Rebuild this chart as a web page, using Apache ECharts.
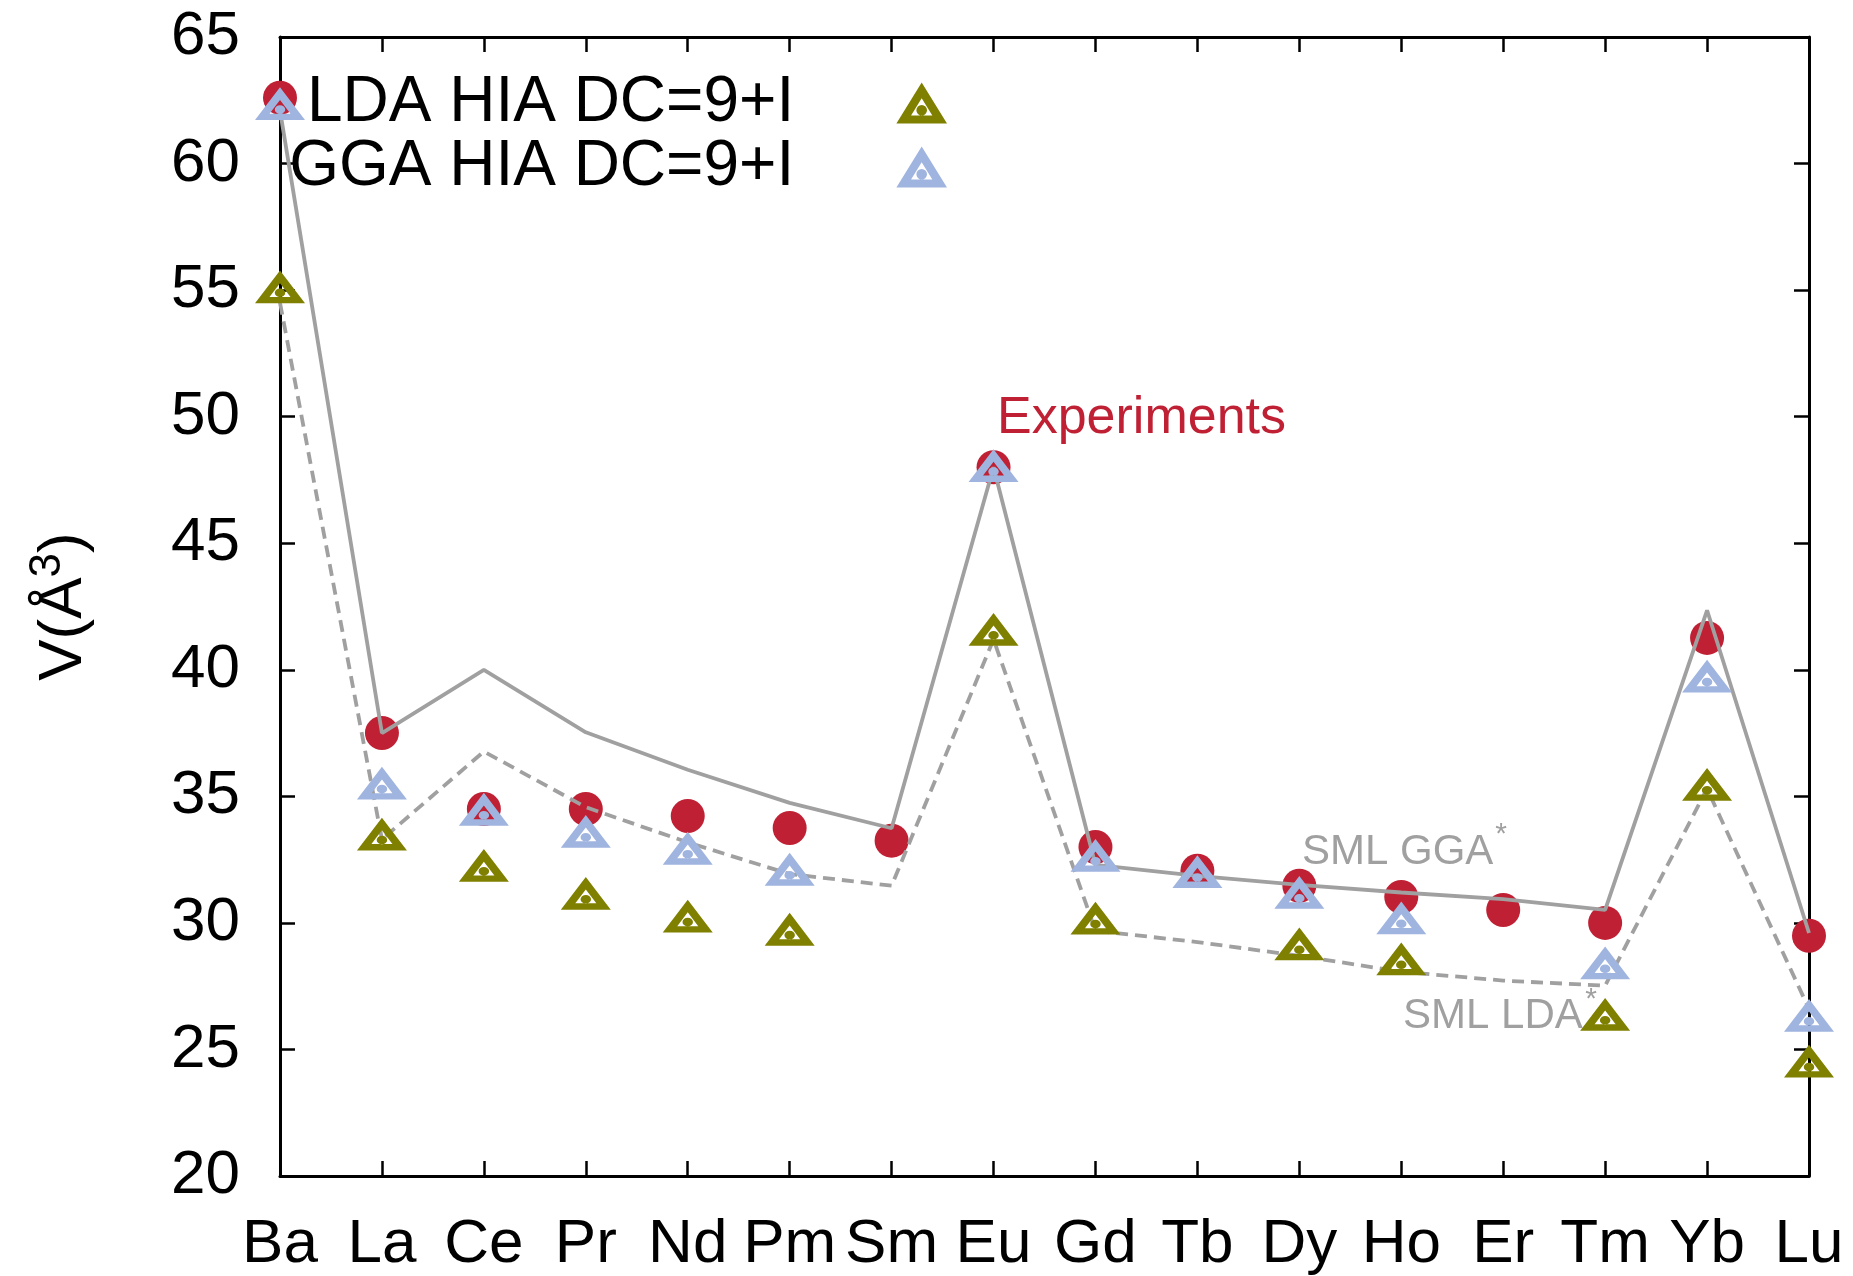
<!DOCTYPE html>
<html>
<head>
<meta charset="utf-8">
<script src="https://cdn.jsdelivr.net/npm/echarts@6/dist/echarts.min.js"></script>
<style>
html,body{margin:0;padding:0;background:#fff;}
#c{width:1853px;height:1276px;}
</style>
</head>
<body>
<div id="c"></div>
<script>
const categories = ['Ba','La','Ce','Pr','Nd','Pm','Sm','Eu','Gd','Tb','Dy','Ho','Er','Tm','Yb','Lu'];
const experiments = [62.6, 37.5, 34.5, 34.5, 34.22, 33.75, 33.25, 48.0, 33.0, 32.06, 31.47, 31.02, 30.51, 30.0, 41.26, 29.49];
const ldaHia = [54.86, 33.24, 32.0, 30.9, 30.0, 29.48, null, 41.33, 29.92, null, 28.9, 28.31, null, 26.12, 35.2, 24.27];
const ggaHia = [62.1, 35.25, 34.22, 33.35, 32.68, 31.85, null, 47.8, 32.4, 31.76, 30.94, 29.93, null, 28.15, 39.48, 26.08];
const smlGga = [62.1, 37.5, 40.0, 37.53, 36.05, 34.74, 33.74, 48.0, 32.29, 31.86, 31.5, 31.2, 30.94, 30.51, 42.35, 29.6];
const smlLda = [54.5, 33.3, 36.77, 34.57, 33.18, 31.93, 31.47, 41.2, 29.69, 29.24, 28.7, 28.07, 27.72, 27.52, 35.3, 26.6];
const yMin = 20, yMax = 65, yStep = 5;

const RED = '#c02034', OLIVE = '#808000', BLUE = '#a0b4e0', GRAY = '#a0a0a0';
const FONT = 'Liberation Sans, Arial, Helvetica, sans-serif';
const triPath = 'path://M0 81 L50 0 L100 81 Z M29 65.3 L71 65.3 L50 31.3 Z M60.5 55 A10.5 10.5 0 1 0 39.5 55 A10.5 10.5 0 1 0 60.5 55 Z';

const axisLine = {show: true, lineStyle: {color: '#000', width: 3}};
const tick = {show: true, inside: true, length: 15, lineStyle: {color: '#000', width: 2.5}};

const chart = echarts.init(document.getElementById('c'), null, {renderer: 'canvas'});
chart.setOption({
  animation: false,
  backgroundColor: '#fff',
  textStyle: {fontFamily: FONT},
  grid: {left: 280, right: 44, top: 37, bottom: 99, containLabel: false},
  legend: {
    orient: 'vertical', align: 'right', right: 906, top: 71, padding: 0,
    itemGap: 0, itemWidth: 245, itemHeight: 41, selectedMode: false,
    data: ['LDA HIA DC=9+I', 'GGA HIA DC=9+I'],
    textStyle: {fontSize: 64, color: '#000', lineHeight: 64, fontFamily: FONT}
  },
  xAxis: [
    {type: 'category', data: categories, boundaryGap: false, position: 'bottom',
     axisLine: axisLine, axisTick: tick,
     axisLabel: {fontSize: 62, color: '#000', margin: 38, interval: 0, fontFamily: FONT},
     splitLine: {show: false}},
    {type: 'category', data: categories, boundaryGap: false, position: 'top',
     axisLine: axisLine, axisTick: tick, axisLabel: {show: false}, splitLine: {show: false}}
  ],
  yAxis: [
    {type: 'value', min: yMin, max: yMax, interval: yStep, position: 'left',
     axisLine: axisLine, axisTick: tick,
     axisLabel: {fontSize: 62, color: '#000', margin: 40, fontFamily: FONT},
     splitLine: {show: false},
     name: '{a|V(Å}{s|3}{a|)}', nameLocation: 'middle', nameGap: 178,
     nameTextStyle: {color: '#000', rich: {
       a: {fontSize: 62, color: '#000', fontFamily: FONT, lineHeight: 76},
       s: {fontSize: 44, color: '#000', fontFamily: FONT, verticalAlign: 'top', lineHeight: 76}
     }}},
    {type: 'value', min: yMin, max: yMax, interval: yStep, position: 'right',
     axisLine: axisLine, axisTick: tick, axisLabel: {show: false}, splitLine: {show: false}}
  ],
  series: [
    {name: 'Experiments', type: 'scatter', data: experiments, z: 2,
     symbol: 'circle', symbolSize: 34, itemStyle: {color: RED, opacity: 1}, emphasis: {disabled: true}},
    {name: 'SML GGA', type: 'line', data: smlGga, z: 3, symbol: 'none',
     lineStyle: {color: GRAY, width: 3.8}, emphasis: {disabled: true}},
    {name: 'SML LDA', type: 'line', data: smlLda, z: 3, symbol: 'none',
     lineStyle: {color: GRAY, width: 3.8, type: [12, 7]}, emphasis: {disabled: true}},
    {name: 'LDA HIA DC=9+I', type: 'scatter', data: ldaHia, z: 4,
     symbol: triPath, symbolSize: [50, 40.5], symbolKeepAspect: true, symbolOffset: [0, -6.8],
     itemStyle: {color: OLIVE, opacity: 1}, emphasis: {disabled: true}},
    {name: 'GGA HIA DC=9+I', type: 'scatter', data: ggaHia, z: 5,
     symbol: triPath, symbolSize: [50, 40.5], symbolKeepAspect: true, symbolOffset: [0, -6.8],
     itemStyle: {color: BLUE, opacity: 1}, emphasis: {disabled: true}}
  ],
  graphic: [
    {type: 'text', x: 997, y: 419, z: 10, style: {text: 'Experiments', fontSize: 52, fontFamily: FONT, fill: RED, align: 'left', verticalAlign: 'middle'}},
    {type: 'text', x: 1302, y: 852, z: 10, style: {text: 'SML GGA', fontSize: 42, fontFamily: FONT, fill: GRAY, align: 'left', verticalAlign: 'middle'}},
    {type: 'text', x: 1501, y: 835, z: 10, style: {text: '*', fontSize: 30, fontFamily: FONT, fill: GRAY, align: 'center', verticalAlign: 'middle'}},
    {type: 'text', x: 1403, y: 1016, z: 10, style: {text: 'SML LDA', fontSize: 42, fontFamily: FONT, fill: GRAY, align: 'left', verticalAlign: 'middle'}},
    {type: 'text', x: 1591, y: 1000, z: 10, style: {text: '*', fontSize: 30, fontFamily: FONT, fill: GRAY, align: 'center', verticalAlign: 'middle'}}
  ]
});
</script>
</body>
</html>
